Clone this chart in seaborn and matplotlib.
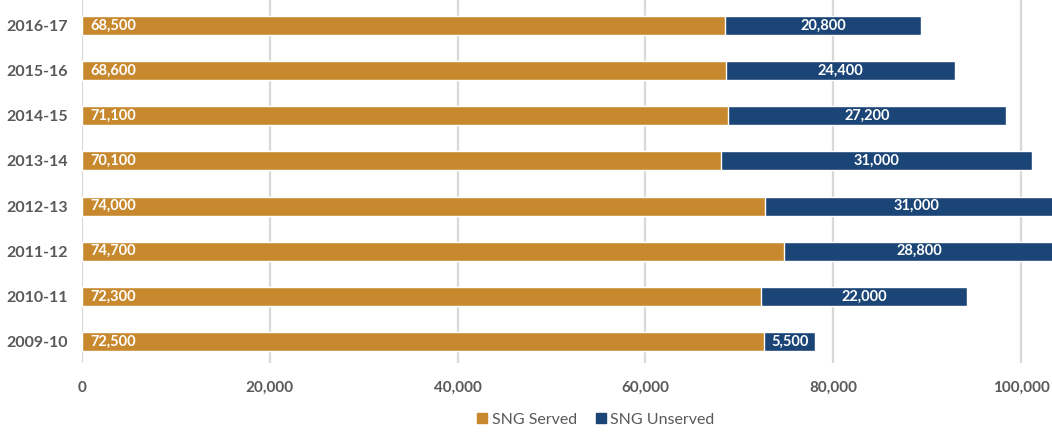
import matplotlib
matplotlib.use("Agg")
import matplotlib.pyplot as plt
import matplotlib.patches as mpatches
import matplotlib.transforms as mtransforms
import seaborn as sns
import pandas as pd
import numpy as np

# ---- data ----
categories = ["2016-17", "2015-16", "2014-15", "2013-14", "2012-13", "2011-12", "2010-11", "2009-10"]
served_labels = [68500, 68600, 71100, 70100, 74000, 74700, 72300, 72500]
unserved_labels = [20800, 24400, 27200, 31000, 31000, 28800, 22000, 5500]
# bar lengths as drawn in the picture
served_bar = [68500, 68600, 68800, 68000, 72700, 74800, 72300, 72600]
unserved_bar = [20800, 24400, 29600, 33200, 32300, 28800, 22000, 5500]
x_ticks = [0, 20000, 40000, 60000, 80000, 100000]

GOLD = "#C8892E"
NAVY = "#1B4577"
GRAY = "#595959"

sns.set_theme(style="white")
plt.rcParams["font.family"] = ["Lato", "DejaVu Sans"]

df = pd.DataFrame({
    "year": categories,
    "served": served_bar,
    "total": np.array(served_bar) + np.array(unserved_bar),
})

fig = plt.figure(figsize=(10.52, 4.33), dpi=100)
ax = fig.add_axes([82 / 1052, 1 - 363 / 433, 1 - 82 / 1052, 363 / 433])

sns.barplot(data=df, x="total", y="year", color=NAVY, width=0.42, ax=ax,
            saturation=1, orient="h", zorder=2)
sns.barplot(data=df, x="served", y="year", color=GOLD, width=0.42, ax=ax,
            saturation=1, orient="h", zorder=3)

ax.set_xlim(0, 103300)
ax.set_ylim(7.476, -0.565)
ax.set_xticks(x_ticks)
ax.set_xticklabels([f"{v:,}" for v in x_ticks])
ax.grid(axis="x", color="#D9D9D9", linewidth=1.6, zorder=0)
ax.set_axisbelow(True)
for s in ax.spines.values():
    s.set_visible(False)
ax.set_xlabel("")
ax.set_ylabel("")
ax.tick_params(axis="x", length=0, pad=13, labelsize=11, labelcolor=GRAY)
ax.tick_params(axis="y", length=0, pad=10, labelsize=11.5, labelcolor=GRAY)
for lab in ax.get_xticklabels() + ax.get_yticklabels():
    lab.set_fontweight("bold")

off = mtransforms.offset_copy(ax.transData, fig=fig, x=8, y=0, units="dots")
for i in range(len(categories)):
    ax.text(0, i, f"{served_labels[i]:,}", transform=off, ha="left", va="center",
            color="white", fontsize=10.5, fontweight="bold", zorder=5)
    cx = served_bar[i] + unserved_bar[i] / 2
    ax.text(cx, i, f"{unserved_labels[i]:,}", ha="center", va="center",
            color="white", fontsize=10.5, fontweight="bold", zorder=5, clip_on=True)

handles = [mpatches.Patch(color=GOLD, label="SNG Served"),
           mpatches.Patch(color=NAVY, label="SNG Unserved")]
fig.legend(handles=handles, loc="center", bbox_to_anchor=(596 / 1052, 1 - 420 / 433),
           ncol=2, frameon=False, fontsize=11.5, labelcolor=GRAY,
           handlelength=0.6, handleheight=0.6, handletextpad=0.3, columnspacing=1.2)

fig.savefig("out.png", dpi=100)
